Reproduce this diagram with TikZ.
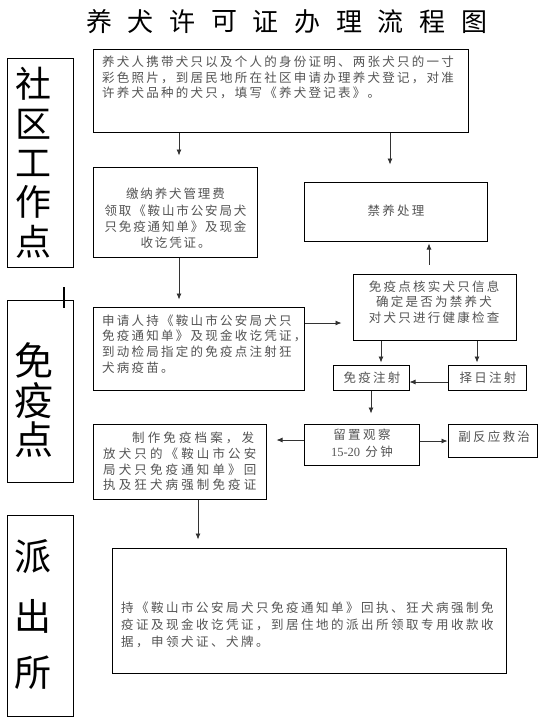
\documentclass[tikz,border=0pt]{standalone}
\usepackage{fontspec}
\usetikzlibrary{arrows.meta}
\newfontfamily\cjk{Noto Sans CJK SC}
\newfontfamily\cjkA[LetterSpace=18]{Noto Sans CJK SC}
\newfontfamily\cjkB[LetterSpace=25]{Noto Sans CJK SC}
\newfontfamily\cjkC[LetterSpace=20]{Noto Sans CJK SC}
\newfontfamily\cjkD[LetterSpace=15]{Noto Sans CJK SC}
\newfontfamily\numfont{Liberation Serif}
\definecolor{txtc}{gray}{0.33}
\begin{document}
\begin{tikzpicture}[x=1pt,y=-1pt,
  box/.style={draw=black, line width=1pt, inner sep=0pt, rectangle},
  bodytext/.style={inner sep=0pt, text=txtc},
  sA/.style={font={\cjkA\fontsize{12.5}{15.6}\selectfont}},
  sB/.style={font={\cjkB\fontsize{12.5}{15.7}\selectfont}},
  sC/.style={font={\cjkC\fontsize{12.5}{17}\selectfont}},
  sD/.style={font={\cjkD\fontsize{12.5}{16.3}\selectfont}},
  arr/.style={draw=black!80, line width=0.8pt, -{Latex[length=6pt,width=5pt]}},
  biglab/.style={inner sep=0pt, text=black}]
\useasboundingbox (0,0) rectangle (550,718);
\fill[white] (0,0) rectangle (550,718);

% title
\foreach \c [count=\i from 0] in {养,犬,许,可,证,办,理,流,程,图}
  \node[biglab, font={\cjk\fontsize{26}{26}\selectfont}] (t\i) at (99+41.67*\i, 22) {\c};

% left labels
\node[box, minimum width=66, minimum height=209] (L1) at (40,162.5) {};
\node[box, minimum width=66, minimum height=182] (L2) at (40,391) {};
\node[box, minimum width=66, minimum height=201] (L3) at (40,615.5) {};
\draw[line width=1.6pt] (64,287) -- (64,308);
\foreach \c/\y [count=\i] in {社/84,区/124,工/163,作/202,点/242}
  \node[biglab, font={\cjk\fontsize{36}{36}\selectfont}] (a\i) at (33.5,\y) {\c};
\foreach \c/\y [count=\i] in {免/360,疫/401,点/440}
  \node[biglab, font={\cjk\fontsize{39}{39}\selectfont}] (b\i) at (33.5,\y) {\c};
\foreach \c/\y [count=\i] in {派/557,出/616,所/673}
  \node[biglab, font={\cjk\fontsize{37}{37}\selectfont}] (p\i) at (33.5,\y) {\c};

% boxes
\node[box, minimum width=375, minimum height=83] (top) at (280.5,90.5) {};
\node[bodytext, sA, align=left, anchor=west] (topt) at (102,77.7)
  {养犬人携带犬只以及个人的身份证明、两张犬只的一寸\\彩色照片，到居民地所在社区申请办理养犬登记，对准\\许养犬品种的犬只，填写《养犬登记表》。};

\node[box, minimum width=164, minimum height=90] (box2) at (175,212) {};
\node[bodytext, sD, align=center] (box2t) at (175.5,218.5)
  {缴纳养犬管理费\\领取《鞍山市公安局犬\\只免疫通知单》及现金\\收讫凭证。};

\node[box, minimum width=183, minimum height=59] (jin) at (395.5,211.5) {};
\node[bodytext, sA] (jint) at (396,211) {禁养处理};

\node[box, minimum width=163, minimum height=66] (hs) at (434.5,307) {};
\node[bodytext, sA, align=center] (hst) at (434,302)
  {免疫点核实犬只信息\\确定是否为禁养犬\\对犬只进行健康检查};

\node[box, minimum width=211, minimum height=83] (box3) at (198.5,348.5) {};
\node[bodytext, sA, align=left, anchor=west] (box3t) at (102,344)
  {申请人持《鞍山市公安局犬只\\免疫通知单》及现金收讫凭证，\\到动检局指定的免疫点注射狂\\犬病疫苗。};

\node[box, minimum width=76, minimum height=25] (mz) at (371,377.5) {};
\node[bodytext, sA] (mzt) at (372,377.5) {免疫注射};
\node[box, minimum width=78, minimum height=25] (zr) at (487,377.5) {};
\node[bodytext, sA] (zrt) at (488,377.5) {择日注射};

\node[box, minimum width=115, minimum height=41] (lz) at (361.5,444.5) {};
\node[bodytext, sC, align=center] (lzt) at (362,443.5)
  {留置观察\\{\numfont 15-20} 分钟};

\node[box, minimum width=173, minimum height=75] (zz) at (179.5,461.5) {};
\node[bodytext, sB, align=left, anchor=west] (zzt) at (103,461.5)
  {\hspace*{29pt}制作免疫档案，发\\放犬只的《鞍山市公安\\局犬只免疫通知单》回\\执及狂犬病强制免疫证};

\node[box, minimum width=89, minimum height=33] (fy) at (492.5,440.5) {};
\node[bodytext, sA] (fyt) at (494,437) {副反应救治};

\node[box, minimum width=394, minimum height=125] (final) at (309,610.5) {};
\node[bodytext, sC, align=left, anchor=west] (finalt) at (121,625)
  {持《鞍山市公安局犬只免疫通知单》回执、狂犬病强制免\\疫证及现金收讫凭证，到居住地的派出所领取专用收款收\\据，申领犬证、犬牌。};

% helper coordinates
\coordinate (cA) at (179,0);
\coordinate (cB) at (390,0);
\coordinate (cC) at (429,0);
\coordinate (cD) at (381,0);
\coordinate (cE) at (477,0);
\coordinate (cF) at (371,0);
\coordinate (cG) at (198,0);
\coordinate (rA) at (0,323);
\coordinate (rB) at (0,382);
\coordinate (rC) at (0,440);
\coordinate (rD) at (0,441);

% connectors
\draw[arr, shorten >=11pt] (top.south -| cA) -- (box2.north -| cA);
\draw[arr, shorten >=17pt] (top.south -| cB) -- (jin.north -| cB);
\draw[arr, shorten >=7pt] (box2.south -| cA) -- (box3.north -| cA);
\draw[arr, shorten <=9pt, shorten >=2pt] (hs.north -| cC) -- (jin.south -| cC);
\draw[arr, shorten >=11pt] (box3.east |- rA) -- (hs.west |- rA);
\draw[arr, shorten >=2pt] (hs.south -| cD) -- (mz.north -| cD);
\draw[arr, shorten >=2pt] (hs.south -| cE) -- (zr.north -| cE);
\draw[arr] (zr.west |- rB) -- (mz.east |- rB);
\draw[arr, shorten >=10pt] (mz.south -| cF) -- (lz.north -| cF);
\draw[arr, shorten >=10pt] (lz.west |- rC) -- (zz.east |- rC);
\draw[arr] (lz.east |- rD) -- (fy.west |- rD);
\draw[arr, shorten >=8pt] (zz.south -| cG) -- (final.north -| cG);
\end{tikzpicture}
\end{document}
